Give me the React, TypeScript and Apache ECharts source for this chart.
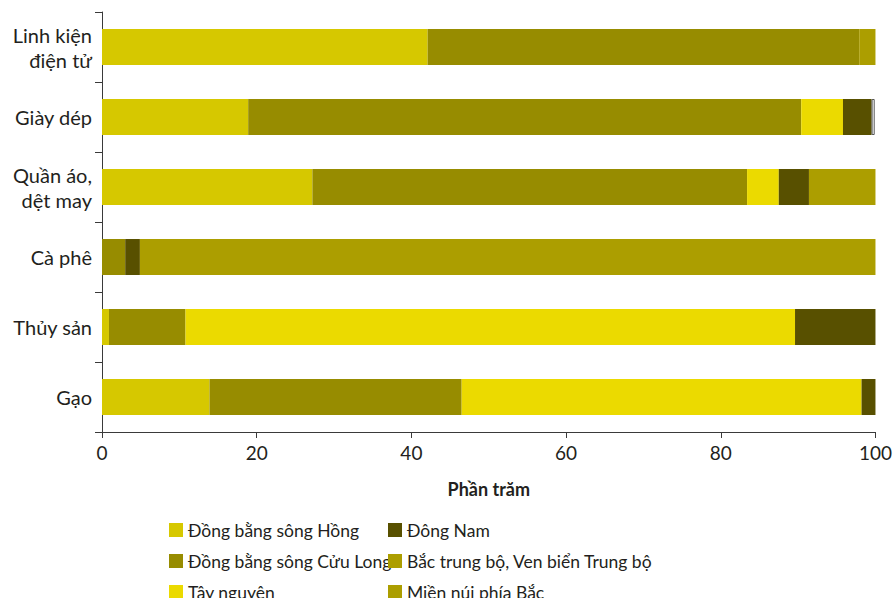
import React, { useEffect, useRef } from "react";
import * as echarts from "echarts";

const categories = ["Gạo", "Thủy sản", "Cà phê", "Quần áo,\ndệt may", "Giày dép", "Linh kiện\nđiện tử"];
const seriesNames = [
  "Đồng bằng sông Hồng",
  "Đồng bằng sông Cửu Long",
  "Tây nguyên",
  "Đông Nam",
  "Bắc trung bộ, Ven biển Trung bộ",
  "Miền núi phía Bắc",
];
const dbsh = [13.9, 0.9, 0, 27.2, 18.9, 42.1];
const dbscl = [32.6, 9.9, 3.0, 56.2, 71.5, 55.8];
const tayNguyen = [51.7, 78.8, 0, 4.1, 5.4, 0];
const dongNam = [1.8, 10.4, 1.9, 3.9, 3.7, 0];
const bacTrungBo = [0, 0, 95.1, 8.6, 0, 2.1];
const mienNui = [0, 0, 0, 0, 0.4, 0];
const xTicks = [0, 20, 40, 60, 80, 100];

const colors = ["#d6c800", "#978c00", "#ebda00", "#585000", "#ac9e00", "#ac9e00"];
const FONT = "Lato";

export default function App() {
  const ref = useRef<HTMLDivElement>(null);
  useEffect(() => {
    document.body.style.margin = "0";
    const chart = echarts.init(ref.current!, null, { renderer: "svg" });
    const values = [dbsh, dbscl, tayNguyen, dongNam, bacTrungBo, mienNui];
    const legendCommon = {
      orient: "vertical",
      top: 520,
      height: 120,
      padding: 0,
      icon: "rect",
      itemWidth: 14,
      itemHeight: 14,
      itemGap: 11,
      textStyle: { fontSize: 17.5, color: "#231f20", lineHeight: 20, fontFamily: FONT },
    };
    chart.setOption({
      animation: false,
      textStyle: { fontFamily: FONT },
      grid: { left: 102, right: 13, top: 12, bottom: 166, containLabel: false },
      xAxis: {
        type: "value",
        min: xTicks[0],
        max: xTicks[xTicks.length - 1],
        interval: 20,
        splitLine: { show: false },
        axisLine: { show: true, lineStyle: { color: "#3a3a3a", width: 1 } },
        axisTick: { show: true, length: 6, lineStyle: { color: "#3a3a3a" } },
        axisLabel: { fontSize: 19, color: "#231f20", margin: 11, fontFamily: FONT },
        name: "Phần trăm",
        nameLocation: "middle",
        nameGap: 48,
        nameTextStyle: { fontSize: 18, fontWeight: "bold", color: "#231f20", fontFamily: FONT },
      },
      yAxis: {
        type: "category",
        data: categories,
        axisLine: { show: true, lineStyle: { color: "#3a3a3a", width: 1 } },
        axisTick: { show: true, length: 7, lineStyle: { color: "#3a3a3a" } },
        axisLabel: {
          fontSize: 20,
          color: "#231f20",
          margin: 10,
          lineHeight: 25,
          padding: [0, 0, 7, 0],
          fontFamily: FONT,
        },
      },
      legend: [
        { ...legendCommon, data: [seriesNames[0], seriesNames[1], seriesNames[2]], left: 169 },
        { ...legendCommon, data: [seriesNames[3], seriesNames[4], seriesNames[5]], left: 388 },
      ],
      series: seriesNames.map((name, i) => ({
        name,
        type: "bar",
        stack: "total",
        barWidth: 36,
        itemStyle: { color: colors[i] },
        emphasis: { disabled: true },
        data: values[i].map((v, j) =>
          i === 5 && j === 4
            ? { value: v, itemStyle: { color: "#ffffff", borderColor: "#555555", borderWidth: 1 } }
            : v
        ),
      })),
    });
    return () => chart.dispose();
  }, []);
  return <div ref={ref} style={{ width: 895, height: 598 }} />;
}
